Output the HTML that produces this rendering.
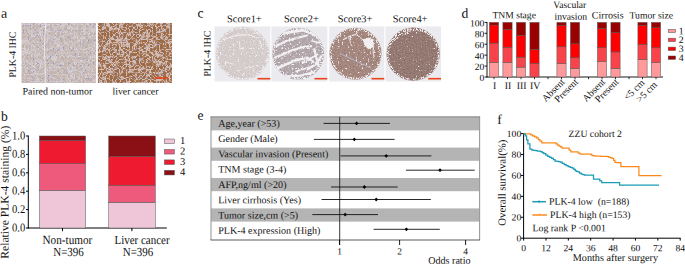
<!DOCTYPE html>
<html><head><meta charset="utf-8"><style>
html,body{margin:0;padding:0;background:#fff;}
svg{display:block;}
text{font-family:"Liberation Serif",serif;fill:#111;}
</style></head><body>
<svg xmlns="http://www.w3.org/2000/svg" width="685" height="265" viewBox="0 0 685 265" font-family="Liberation Serif">
<rect width="685" height="265" fill="#fff"/>
<text x="0.90" y="17.80" font-size="14.0" text-anchor="start"  transform="rotate(0.04 0.90 17.80)">a</text>
<text x="1.10" y="120.80" font-size="13.6" text-anchor="start"  transform="rotate(0.04 1.10 120.80)">b</text>
<text x="197.60" y="17.60" font-size="13.6" text-anchor="start"  transform="rotate(0.04 197.60 17.60)">c</text>
<text x="461.50" y="17.80" font-size="13.6" text-anchor="start"  transform="rotate(0.04 461.50 17.80)">d</text>
<text x="197.50" y="119.70" font-size="13.6" text-anchor="start"  transform="rotate(0.04 197.50 119.70)">e</text>
<text x="497.20" y="124.10" font-size="13.6" text-anchor="start"  transform="rotate(0.04 497.20 124.10)">f</text>
<filter id="fa1" x="-5%" y="-5%" width="110%" height="110%" color-interpolation-filters="sRGB">
<feTurbulence type="turbulence" baseFrequency="0.28" numOctaves="1" seed="14" result="n"/>
<feColorMatrix in="n" type="matrix" values="1 0 0 0 0 1 0 0 0 0 1 0 0 0 0 0 0 0 0 1" result="g"/>
<feComponentTransfer in="g" result="c"><feFuncR type="table" tableValues="0.85 0.81 0.80 0.79 0.78 0.77 0.77 0.77 0.77 0.77 0.77 0.77 0.77 0.77 0.77 0.77"/><feFuncG type="table" tableValues="0.83 0.77 0.74 0.73 0.72 0.71 0.71 0.71 0.71 0.71 0.71 0.71 0.71 0.71 0.71 0.71"/><feFuncB type="table" tableValues="0.85 0.77 0.72 0.71 0.70 0.69 0.69 0.69 0.69 0.69 0.69 0.69 0.69 0.69 0.69 0.69"/></feComponentTransfer>
<feTurbulence type="fractalNoise" baseFrequency="0.6" numOctaves="1" seed="19" result="n2"/>
<feColorMatrix in="n2" type="matrix" values="0 0 0 0 0.56 0 0 0 0 0.59 0 0 0 0 0.78 0 8 0 0 -5.0" result="blue"/>
<feComposite in="blue" in2="c" operator="over"/><feGaussianBlur stdDeviation="0.6"/><feComposite in2="SourceAlpha" operator="in"/></filter>
<filter id="fa2" x="-5%" y="-5%" width="110%" height="110%" color-interpolation-filters="sRGB">
<feTurbulence type="turbulence" baseFrequency="0.3" numOctaves="1" seed="4" result="n"/>
<feColorMatrix in="n" type="matrix" values="1 0 0 0 0 1 0 0 0 0 1 0 0 0 0 0 0 0 0 1" result="g"/>
<feComponentTransfer in="g" result="c"><feFuncR type="table" tableValues="0.82 0.82 0.74 0.67 0.65 0.63 0.61 0.61 0.61 0.61 0.61 0.61 0.61 0.61 0.61 0.61 0.61 0.61 0.61 0.61 0.61 0.61"/><feFuncG type="table" tableValues="0.75 0.75 0.60 0.47 0.45 0.43 0.42 0.42 0.42 0.42 0.42 0.42 0.42 0.42 0.42 0.42 0.42 0.42 0.42 0.42 0.42 0.42"/><feFuncB type="table" tableValues="0.74 0.74 0.52 0.33 0.31 0.29 0.28 0.28 0.28 0.28 0.28 0.28 0.28 0.28 0.28 0.28 0.28 0.28 0.28 0.28 0.28 0.28"/></feComponentTransfer>
<feTurbulence type="fractalNoise" baseFrequency="0.7" numOctaves="1" seed="9" result="n2"/>
<feColorMatrix in="n2" type="matrix" values="0 0 0 0 0.6 0 0 0 0 0.6 0 0 0 0 0.8 0 12 0 0 -8.0" result="blue"/>
<feComposite in="blue" in2="c" operator="over"/><feGaussianBlur stdDeviation="0.6"/><feComposite in2="SourceAlpha" operator="in"/></filter>
<rect x="21.50" y="23.00" width="74.50" height="60.00" fill="#000" filter="url(#fa1)"/>
<path d="M45.9 23 C45.0 33 44.3 43 44.6 53 C44.9 63 45.6 73 45.1 83" stroke="#f2eeee" stroke-width="0.9" fill="none"/>
<path d="M53.5 50.5 L61 42.5" stroke="#e8e2e4" stroke-width="0.7" fill="none" opacity="0.8"/>
<rect x="97.90" y="23.00" width="74.10" height="60.00" fill="#000" filter="url(#fa2)"/>
<rect x="155.00" y="77.20" width="13.00" height="1.60" fill="#e9441d" />
<text x="0.00" y="0.00" font-size="9.8" text-anchor="middle" transform="translate(15.7 54.6) rotate(-90) rotate(0.04)">PLK-4 IHC</text>
<text x="22.60" y="94.50" font-size="9.93" text-anchor="start"  transform="rotate(0.04 22.60 94.50)">Paired non-tumor</text>
<text x="112.50" y="94.50" font-size="9.8" text-anchor="start"  transform="rotate(0.04 112.50 94.50)">liver cancer</text>
<text x="0.00" y="0.00" font-size="11.6" text-anchor="middle" transform="translate(8.6 192.2) rotate(-90) rotate(0.04)">Relative PLK-4 staining (%)</text>
<line x1="28.30" y1="135.50" x2="28.30" y2="228.50" stroke="#000" stroke-width="1" />
<line x1="26.00" y1="228.00" x2="28.30" y2="228.00" stroke="#000" stroke-width="1" />
<text x="0" y="0" font-size="10.6" text-anchor="end" transform="translate(25.20 231.40) scale(1 1.12) rotate(0.04)">0.0</text>
<line x1="26.00" y1="209.60" x2="28.30" y2="209.60" stroke="#000" stroke-width="1" />
<text x="0" y="0" font-size="10.6" text-anchor="end" transform="translate(25.20 213.00) scale(1 1.12) rotate(0.04)">0.2</text>
<line x1="26.00" y1="191.20" x2="28.30" y2="191.20" stroke="#000" stroke-width="1" />
<text x="0" y="0" font-size="10.6" text-anchor="end" transform="translate(25.20 194.60) scale(1 1.12) rotate(0.04)">0.4</text>
<line x1="26.00" y1="172.80" x2="28.30" y2="172.80" stroke="#000" stroke-width="1" />
<text x="0" y="0" font-size="10.6" text-anchor="end" transform="translate(25.20 176.20) scale(1 1.12) rotate(0.04)">0.6</text>
<line x1="26.00" y1="154.40" x2="28.30" y2="154.40" stroke="#000" stroke-width="1" />
<text x="0" y="0" font-size="10.6" text-anchor="end" transform="translate(25.20 157.80) scale(1 1.12) rotate(0.04)">0.8</text>
<line x1="26.00" y1="136.00" x2="28.30" y2="136.00" stroke="#000" stroke-width="1" />
<text x="0" y="0" font-size="10.6" text-anchor="end" transform="translate(25.20 139.40) scale(1 1.12) rotate(0.04)">1.0</text>
<line x1="27.80" y1="228.00" x2="166.80" y2="228.00" stroke="#000" stroke-width="1" />
<rect x="39.40" y="190.28" width="46.20" height="37.72" fill="#efc6d8" stroke="#555" stroke-width="0.5"/>
<rect x="39.40" y="163.60" width="46.20" height="26.68" fill="#ee5a7c" stroke="#555" stroke-width="0.5"/>
<rect x="39.40" y="140.60" width="46.20" height="23.00" fill="#ee1b30" stroke="#555" stroke-width="0.5"/>
<rect x="39.40" y="136.00" width="46.20" height="4.60" fill="#8a1016" stroke="#555" stroke-width="0.5"/>
<rect x="108.70" y="202.24" width="46.60" height="25.76" fill="#efc6d8" stroke="#555" stroke-width="0.5"/>
<rect x="108.70" y="185.22" width="46.60" height="17.02" fill="#ee5a7c" stroke="#555" stroke-width="0.5"/>
<rect x="108.70" y="156.24" width="46.60" height="28.98" fill="#ee1b30" stroke="#555" stroke-width="0.5"/>
<rect x="108.70" y="136.00" width="46.60" height="20.24" fill="#8a1016" stroke="#555" stroke-width="0.5"/>
<line x1="62.50" y1="228.00" x2="62.50" y2="231.20" stroke="#000" stroke-width="1" />
<line x1="131.90" y1="228.00" x2="131.90" y2="231.20" stroke="#000" stroke-width="1" />
<text x="0" y="0" font-size="11.2" text-anchor="middle" transform="translate(67.40 244.00) scale(1 1.12) rotate(0.04)">Non-tumor</text>
<text x="0" y="0" font-size="11" text-anchor="middle" transform="translate(68.50 256.00) scale(1 1.12) rotate(0.04)">N=396</text>
<text x="0" y="0" font-size="11" text-anchor="middle" transform="translate(142.00 244.00) scale(1 1.12) rotate(0.04)">Liver cancer</text>
<text x="0" y="0" font-size="11" text-anchor="middle" transform="translate(138.00 256.00) scale(1 1.12) rotate(0.04)">N=396</text>
<rect x="164.4" y="139.00" width="10" height="4.6" fill="#efc6d8" stroke="#555" stroke-width="0.5"/>
<text x="180.00" y="144.00" font-size="10.6" text-anchor="start"  transform="rotate(0.04 180.00 144.00)">1</text>
<rect x="164.4" y="149.45" width="10" height="4.6" fill="#ee5a7c" stroke="#555" stroke-width="0.5"/>
<text x="180.00" y="154.45" font-size="10.6" text-anchor="start"  transform="rotate(0.04 180.00 154.45)">2</text>
<rect x="164.4" y="159.90" width="10" height="4.6" fill="#ee1b30" stroke="#555" stroke-width="0.5"/>
<text x="180.00" y="164.90" font-size="10.6" text-anchor="start"  transform="rotate(0.04 180.00 164.90)">3</text>
<rect x="164.4" y="170.35" width="10" height="4.6" fill="#8a1016" stroke="#555" stroke-width="0.5"/>
<text x="180.00" y="175.35" font-size="10.6" text-anchor="start"  transform="rotate(0.04 180.00 175.35)">4</text>
<text x="0.00" y="0.00" font-size="9.8" text-anchor="middle" transform="translate(210.6 53.6) rotate(-90) rotate(0.04)">PLK-4 IHC</text>
<rect x="214.50" y="26.40" width="55.80" height="55.10" fill="#ebeaee" />
<filter id="tf0" x="0" y="0" width="100%" height="100%" color-interpolation-filters="sRGB">
<feTurbulence type="fractalNoise" baseFrequency="0.75" numOctaves="2" seed="20" result="n"/>
<feColorMatrix in="n" type="matrix" values="1 0 0 0 0 1 0 0 0 0 1 0 0 0 0 0 0 0 0 1" result="g"/>
<feComponentTransfer in="g" result="c0"><feFuncR type="table" tableValues="0.779 0.779 0.803 0.825 0.845 0.866 0.912 0.940"/><feFuncG type="table" tableValues="0.744 0.744 0.769 0.790 0.810 0.832 0.877 0.940"/><feFuncB type="table" tableValues="0.744 0.744 0.769 0.790 0.810 0.832 0.877 0.940"/></feComponentTransfer>
<feOffset in="c0" dx="0" dy="0" result="c"/>
<feTurbulence type="fractalNoise" baseFrequency="0.4" numOctaves="2" seed="70" result="m"/>
<feColorMatrix in="m" type="matrix" values="0 0 0 0 0 0 0 0 0 0 0 0 0 0 0 12 0 0 0 -3.000" result="mask"/>

<feComposite in="c" in2="mask" operator="in"/><feGaussianBlur stdDeviation="0.35"/></filter>
<filter id="rf0" x="-10%" y="-10%" width="120%" height="120%" color-interpolation-filters="sRGB">
<feTurbulence type="fractalNoise" baseFrequency="0.9" numOctaves="1" seed="100" result="m"/>
<feColorMatrix in="m" type="matrix" values="0 0 0 0 0 0 0 0 0 0 0 0 0 0 0 9 0 0 0 -4.2" result="mask"/>
<feComposite in="SourceGraphic" in2="mask" operator="in"/></filter>
<clipPath id="cc0"><circle cx="242.50" cy="53.40" r="26.70"/></clipPath>
<g clip-path="url(#cc0)"><rect x="215.8" y="26.7" width="53.4" height="53.4" fill="#f1eff1"/>
<g transform="rotate(0 242.50 53.40)"><rect x="202.4" y="13.4" width="80.1" height="80.1" fill="#000" filter="url(#tf0)"/></g>
<filter id="rough1" x="-10%" y="-10%" width="120%" height="120%"><feTurbulence type="fractalNoise" baseFrequency="0.7" numOctaves="2" seed="5" result="t"/><feDisplacementMap in="SourceGraphic" in2="t" scale="2.4" xChannelSelector="R" yChannelSelector="G"/></filter><g fill="none" stroke="#f1eff1" stroke-linecap="round" stroke-linejoin="round" filter="url(#rough1)" opacity="0.9"><path d="M223.5 39.7 L235.1 35.5 L247.8 34.4 L257.3 38.2" stroke-width="1.3"/><path d="M239.3 41.8 L240.2 49.6" stroke-width="1.0"/><path d="M225.6 61.9 L234.1 64.4" stroke-width="1.0"/><path d="M221.4 69.3 L226.7 74.1" stroke-width="1.6"/><path d="M245.7 68.2 L254.1 66.1" stroke-width="1.0"/><path d="M259.4 40.8 L263.0 49.2" stroke-width="1.2"/></g>
<circle cx="242.50" cy="53.40" r="25.60" fill="none" stroke="#f1eff1" stroke-width="2.2" filter="url(#rf0)"/>
</g>
<rect x="257.50" y="77.90" width="12.80" height="1.60" fill="#e9441d" />
<text x="244.35" y="22.20" font-size="10.4" text-anchor="middle"  transform="rotate(0.04 244.35 22.20)">Score1+</text>
<rect x="271.40" y="26.40" width="55.90" height="55.10" fill="#ebeaee" />
<filter id="tf1" x="0" y="0" width="100%" height="100%" color-interpolation-filters="sRGB">
<feTurbulence type="fractalNoise" baseFrequency="0.75" numOctaves="2" seed="21" result="n"/>
<feColorMatrix in="n" type="matrix" values="1 0 0 0 0 1 0 0 0 0 1 0 0 0 0 0 0 0 0 1" result="g"/>
<feComponentTransfer in="g" result="c0"><feFuncR type="table" tableValues="0.620 0.620 0.655 0.685 0.715 0.745 0.810 0.940"/><feFuncG type="table" tableValues="0.575 0.575 0.610 0.640 0.670 0.700 0.765 0.940"/><feFuncB type="table" tableValues="0.590 0.590 0.625 0.655 0.685 0.715 0.780 0.940"/></feComponentTransfer>
<feOffset in="c0" dx="0" dy="0" result="c"/>
<feTurbulence type="fractalNoise" baseFrequency="0.5" numOctaves="2" seed="71" result="m"/>
<feColorMatrix in="m" type="matrix" values="0 0 0 0 0 0 0 0 0 0 0 0 0 0 0 12 0 0 0 -3.240" result="mask"/>

<feComposite in="c" in2="mask" operator="in"/><feGaussianBlur stdDeviation="0.35"/></filter>
<filter id="rf1" x="-10%" y="-10%" width="120%" height="120%" color-interpolation-filters="sRGB">
<feTurbulence type="fractalNoise" baseFrequency="0.9" numOctaves="1" seed="101" result="m"/>
<feColorMatrix in="m" type="matrix" values="0 0 0 0 0 0 0 0 0 0 0 0 0 0 0 9 0 0 0 -4.2" result="mask"/>
<feComposite in="SourceGraphic" in2="mask" operator="in"/></filter>
<clipPath id="cc1"><circle cx="298.20" cy="53.70" r="25.90"/></clipPath>
<g clip-path="url(#cc1)"><rect x="272.3" y="27.8" width="51.8" height="51.8" fill="#f1eff1"/>
<g transform="rotate(0 298.20 53.70)"><rect x="259.4" y="14.9" width="77.7" height="77.7" fill="#000" filter="url(#tf1)"/></g>
<filter id="rough2" x="-10%" y="-10%" width="120%" height="120%"><feTurbulence type="fractalNoise" baseFrequency="0.7" numOctaves="2" seed="3" result="t"/><feDisplacementMap in="SourceGraphic" in2="t" scale="2.6" xChannelSelector="R" yChannelSelector="G"/></filter><g fill="none" stroke="#f1eff1" stroke-linecap="round" stroke-linejoin="round" filter="url(#rough2)"><path d="M276.3 46.1 L286.8 40.8 L298.4 37.6 L306.9 35.5" stroke-width="2.2"/><path d="M275.2 57.7 L292.1 50.3 L302.7 47.1 L311.1 46.1" stroke-width="2.4"/><path d="M277.3 68.2 L294.2 60.8 L306.9 57.7 L313.2 61.9" stroke-width="2.6"/><path d="M302.7 62.9 L317.4 54.5" stroke-width="2.0"/><path d="M296.3 71.4 L313.2 66.1" stroke-width="2.0"/><path d="M283.7 33.4 L302.7 30.2 L317.4 35.5" stroke-width="2.6"/><path d="M307.9 69.3 L316.4 64.0 L321.7 55.6" stroke-width="2.4"/><path d="M314.3 49.2 L316.4 57.7 L318.5 66.1" stroke-width="2.2"/><path d="M283.7 76.7 L300.6 75.6 L313.2 72.4" stroke-width="2.4"/><path d="M311.1 40.8 L319.6 42.9" stroke-width="1.6"/></g>
<circle cx="298.20" cy="53.70" r="24.80" fill="none" stroke="#f1eff1" stroke-width="2.2" filter="url(#rf1)"/>
</g>
<rect x="314.50" y="77.90" width="12.80" height="1.60" fill="#e9441d" />
<text x="301.40" y="22.20" font-size="10.4" text-anchor="middle"  transform="rotate(0.04 301.40 22.20)">Score2+</text>
<rect x="329.20" y="26.40" width="55.10" height="55.10" fill="#ebeaee" />
<filter id="tf2" x="0" y="0" width="100%" height="100%" color-interpolation-filters="sRGB">
<feTurbulence type="fractalNoise" baseFrequency="0.75" numOctaves="2" seed="22" result="n"/>
<feColorMatrix in="n" type="matrix" values="1 0 0 0 0 1 0 0 0 0 1 0 0 0 0 0 0 0 0 1" result="g"/>
<feComponentTransfer in="g" result="c0"><feFuncR type="table" tableValues="0.565 0.565 0.600 0.630 0.660 0.690 0.755 0.940"/><feFuncG type="table" tableValues="0.450 0.450 0.485 0.515 0.545 0.575 0.640 0.940"/><feFuncB type="table" tableValues="0.415 0.415 0.450 0.480 0.510 0.540 0.605 0.940"/></feComponentTransfer>
<feOffset in="c0" dx="0" dy="0" result="c"/>
<feTurbulence type="fractalNoise" baseFrequency="0.5" numOctaves="2" seed="72" result="m"/>
<feColorMatrix in="m" type="matrix" values="0 0 0 0 0 0 0 0 0 0 0 0 0 0 0 14 0 0 0 -3.500" result="mask"/>

<feComposite in="c" in2="mask" operator="in"/><feGaussianBlur stdDeviation="0.35"/></filter>
<filter id="rf2" x="-10%" y="-10%" width="120%" height="120%" color-interpolation-filters="sRGB">
<feTurbulence type="fractalNoise" baseFrequency="0.9" numOctaves="1" seed="102" result="m"/>
<feColorMatrix in="m" type="matrix" values="0 0 0 0 0 0 0 0 0 0 0 0 0 0 0 9 0 0 0 -4.2" result="mask"/>
<feComposite in="SourceGraphic" in2="mask" operator="in"/></filter>
<clipPath id="cc2"><circle cx="355.50" cy="53.80" r="26.00"/></clipPath>
<g clip-path="url(#cc2)"><rect x="329.5" y="27.8" width="52.0" height="52.0" fill="#f1eff1"/>
<g transform="rotate(0 355.50 53.80)"><rect x="316.5" y="14.8" width="78.0" height="78.0" fill="#000" filter="url(#tf2)"/></g>
<filter id="rough3" x="-10%" y="-10%" width="120%" height="120%"><feTurbulence type="fractalNoise" baseFrequency="0.7" numOctaves="2" seed="8" result="t"/><feDisplacementMap in="SourceGraphic" in2="t" scale="2.4" xChannelSelector="R" yChannelSelector="G"/></filter><g filter="url(#rough3)"><g fill="none" stroke="#f1eff1" stroke-linecap="round" stroke-linejoin="round"><path d="M343.4 39.6 L347.9 37.3 L351.3 35.6 L355.8 34.5 L358.1 30.5 L359.8 29.2" stroke-width="1.1"/><path d="M350.5 36.5 L349.8 40 L350.6 44 L352 46" stroke-width="0.9"/><path d="M357 35 L362.6 39.6" stroke-width="1.0"/><path d="M372.5 40 L373.8 46 L373 52 L374.5 58" stroke-width="0.9"/></g><path d="M362.6 39.6 L368.3 37.6 L373.9 39.6 L372.8 47.5 L368.3 49.2 L364.9 45.8 Z" fill="#f1eff1"/></g><path d="M339.6 53.4 L371.3 68.2" stroke="#b9b3c8" stroke-width="1" fill="none"/>
<circle cx="355.50" cy="53.80" r="24.90" fill="none" stroke="#f1eff1" stroke-width="2.2" filter="url(#rf2)"/>
</g>
<rect x="371.50" y="77.90" width="12.80" height="1.60" fill="#e9441d" />
<text x="355.00" y="22.20" font-size="10.4" text-anchor="middle"  transform="rotate(0.04 355.00 22.20)">Score3+</text>
<rect x="385.50" y="26.40" width="55.50" height="55.10" fill="#ebeaee" />
<filter id="tf3" x="0" y="0" width="100%" height="100%" color-interpolation-filters="sRGB">
<feTurbulence type="fractalNoise" baseFrequency="0.75" numOctaves="2" seed="23" result="n"/>
<feColorMatrix in="n" type="matrix" values="1 0 0 0 0 1 0 0 0 0 1 0 0 0 0 0 0 0 0 1" result="g"/>
<feComponentTransfer in="g" result="c0"><feFuncR type="table" tableValues="0.505 0.505 0.540 0.570 0.600 0.630 0.695 0.940"/><feFuncG type="table" tableValues="0.400 0.400 0.435 0.465 0.495 0.525 0.590 0.940"/><feFuncB type="table" tableValues="0.375 0.375 0.410 0.440 0.470 0.500 0.565 0.940"/></feComponentTransfer>
<feOffset in="c0" dx="0" dy="0" result="c"/>
<feTurbulence type="fractalNoise" baseFrequency="0.5" numOctaves="2" seed="73" result="m"/>
<feColorMatrix in="m" type="matrix" values="0 0 0 0 0 0 0 0 0 0 0 0 0 0 0 14 0 0 0 -3.080" result="mask"/>

<feComposite in="c" in2="mask" operator="in"/><feGaussianBlur stdDeviation="0.35"/></filter>
<filter id="rf3" x="-10%" y="-10%" width="120%" height="120%" color-interpolation-filters="sRGB">
<feTurbulence type="fractalNoise" baseFrequency="0.9" numOctaves="1" seed="103" result="m"/>
<feColorMatrix in="m" type="matrix" values="0 0 0 0 0 0 0 0 0 0 0 0 0 0 0 9 0 0 0 -4.2" result="mask"/>
<feComposite in="SourceGraphic" in2="mask" operator="in"/></filter>
<clipPath id="cc3"><circle cx="413.20" cy="54.20" r="26.60"/></clipPath>
<g clip-path="url(#cc3)"><rect x="386.6" y="27.6" width="53.2" height="53.2" fill="#f1eff1"/>
<g transform="rotate(0 413.20 54.20)"><rect x="373.3" y="14.3" width="79.8" height="79.8" fill="#000" filter="url(#tf3)"/></g>
<g fill="none" stroke="#f1eff1" stroke-linecap="round" filter="url(#rf3)"><path d="M390.3 42.9 L394.5 35.5 L404 30.6 L416.7 29.2 L427.2 31.3 L434.6 36.6" stroke-width="3"/><path d="M393 41 L400 35 L408 33" stroke-width="2"/></g>
<circle cx="413.20" cy="54.20" r="25.50" fill="none" stroke="#f1eff1" stroke-width="2.2" filter="url(#rf3)"/>
</g>
<rect x="428.20" y="77.90" width="12.80" height="1.60" fill="#e9441d" />
<text x="410.10" y="22.20" font-size="10.4" text-anchor="middle"  transform="rotate(0.04 410.10 22.20)">Score4+</text>
<line x1="487.00" y1="22.00" x2="487.00" y2="77.50" stroke="#000" stroke-width="0.9" />
<line x1="484.60" y1="77.00" x2="487.00" y2="77.00" stroke="#000" stroke-width="0.9" />
<text x="484.30" y="81.00" font-size="9.6" text-anchor="end"  transform="rotate(0.04 484.30 81.00)">0</text>
<line x1="484.60" y1="66.08" x2="487.00" y2="66.08" stroke="#000" stroke-width="0.9" />
<text x="484.30" y="70.08" font-size="9.6" text-anchor="end"  transform="rotate(0.04 484.30 70.08)">20</text>
<line x1="484.60" y1="55.16" x2="487.00" y2="55.16" stroke="#000" stroke-width="0.9" />
<text x="484.30" y="59.16" font-size="9.6" text-anchor="end"  transform="rotate(0.04 484.30 59.16)">40</text>
<line x1="484.60" y1="44.24" x2="487.00" y2="44.24" stroke="#000" stroke-width="0.9" />
<text x="484.30" y="48.24" font-size="9.6" text-anchor="end"  transform="rotate(0.04 484.30 48.24)">60</text>
<line x1="484.60" y1="33.32" x2="487.00" y2="33.32" stroke="#000" stroke-width="0.9" />
<text x="484.30" y="37.32" font-size="9.6" text-anchor="end"  transform="rotate(0.04 484.30 37.32)">80</text>
<line x1="484.60" y1="22.40" x2="487.00" y2="22.40" stroke="#000" stroke-width="0.9" />
<text x="484.30" y="26.40" font-size="9.6" text-anchor="end"  transform="rotate(0.04 484.30 26.40)">100</text>
<line x1="486.60" y1="77.00" x2="663.00" y2="77.00" stroke="#000" stroke-width="0.9" />
<line x1="494.00" y1="77.00" x2="494.00" y2="79.20" stroke="#000" stroke-width="0.8" />
<line x1="507.50" y1="77.00" x2="507.50" y2="79.20" stroke="#000" stroke-width="0.8" />
<line x1="521.00" y1="77.00" x2="521.00" y2="79.20" stroke="#000" stroke-width="0.8" />
<line x1="534.50" y1="77.00" x2="534.50" y2="79.20" stroke="#000" stroke-width="0.8" />
<line x1="548.00" y1="77.00" x2="548.00" y2="79.20" stroke="#000" stroke-width="0.8" />
<line x1="561.50" y1="77.00" x2="561.50" y2="79.20" stroke="#000" stroke-width="0.8" />
<line x1="575.00" y1="77.00" x2="575.00" y2="79.20" stroke="#000" stroke-width="0.8" />
<line x1="588.50" y1="77.00" x2="588.50" y2="79.20" stroke="#000" stroke-width="0.8" />
<line x1="602.00" y1="77.00" x2="602.00" y2="79.20" stroke="#000" stroke-width="0.8" />
<line x1="615.50" y1="77.00" x2="615.50" y2="79.20" stroke="#000" stroke-width="0.8" />
<line x1="629.00" y1="77.00" x2="629.00" y2="79.20" stroke="#000" stroke-width="0.8" />
<line x1="642.50" y1="77.00" x2="642.50" y2="79.20" stroke="#000" stroke-width="0.8" />
<line x1="656.00" y1="77.00" x2="656.00" y2="79.20" stroke="#000" stroke-width="0.8" />
<rect x="489.40" y="62.31" width="9.20" height="14.69" fill="#ff9a9c" stroke="#555" stroke-width="0.5"/>
<rect x="489.40" y="43.04" width="9.20" height="19.27" fill="#f8434a" stroke="#555" stroke-width="0.5"/>
<rect x="489.40" y="25.02" width="9.20" height="18.02" fill="#ff0000" stroke="#555" stroke-width="0.5"/>
<rect x="489.40" y="22.40" width="9.20" height="2.62" fill="#990000" stroke="#555" stroke-width="0.5"/>
<rect x="502.90" y="62.31" width="9.20" height="14.69" fill="#ff9a9c" stroke="#555" stroke-width="0.5"/>
<rect x="502.90" y="47.35" width="9.20" height="14.96" fill="#f8434a" stroke="#555" stroke-width="0.5"/>
<rect x="502.90" y="29.50" width="9.20" height="17.85" fill="#ff0000" stroke="#555" stroke-width="0.5"/>
<rect x="502.90" y="22.40" width="9.20" height="7.10" fill="#990000" stroke="#555" stroke-width="0.5"/>
<rect x="516.40" y="67.12" width="9.20" height="9.88" fill="#ff9a9c" stroke="#555" stroke-width="0.5"/>
<rect x="516.40" y="57.13" width="9.20" height="9.99" fill="#f8434a" stroke="#555" stroke-width="0.5"/>
<rect x="516.40" y="35.50" width="9.20" height="21.62" fill="#ff0000" stroke="#555" stroke-width="0.5"/>
<rect x="516.40" y="22.40" width="9.20" height="13.10" fill="#990000" stroke="#555" stroke-width="0.5"/>
<rect x="529.90" y="63.40" width="9.20" height="13.60" fill="#f8434a" stroke="#555" stroke-width="0.5"/>
<rect x="529.90" y="49.54" width="9.20" height="13.87" fill="#ff0000" stroke="#555" stroke-width="0.5"/>
<rect x="529.90" y="22.40" width="9.20" height="27.14" fill="#990000" stroke="#555" stroke-width="0.5"/>
<rect x="556.90" y="63.62" width="9.20" height="13.38" fill="#ff9a9c" stroke="#555" stroke-width="0.5"/>
<rect x="556.90" y="46.81" width="9.20" height="16.82" fill="#f8434a" stroke="#555" stroke-width="0.5"/>
<rect x="556.90" y="25.68" width="9.20" height="21.13" fill="#ff0000" stroke="#555" stroke-width="0.5"/>
<rect x="556.90" y="22.40" width="9.20" height="3.28" fill="#990000" stroke="#555" stroke-width="0.5"/>
<rect x="570.40" y="68.37" width="9.20" height="8.63" fill="#ff9a9c" stroke="#555" stroke-width="0.5"/>
<rect x="570.40" y="57.78" width="9.20" height="10.59" fill="#f8434a" stroke="#555" stroke-width="0.5"/>
<rect x="570.40" y="43.80" width="9.20" height="13.98" fill="#ff0000" stroke="#555" stroke-width="0.5"/>
<rect x="570.40" y="22.40" width="9.20" height="21.40" fill="#990000" stroke="#555" stroke-width="0.5"/>
<rect x="597.40" y="61.49" width="9.20" height="15.51" fill="#ff9a9c" stroke="#555" stroke-width="0.5"/>
<rect x="597.40" y="47.68" width="9.20" height="13.81" fill="#f8434a" stroke="#555" stroke-width="0.5"/>
<rect x="597.40" y="28.52" width="9.20" height="19.16" fill="#ff0000" stroke="#555" stroke-width="0.5"/>
<rect x="597.40" y="22.40" width="9.20" height="6.12" fill="#990000" stroke="#555" stroke-width="0.5"/>
<rect x="610.90" y="68.48" width="9.20" height="8.52" fill="#ff9a9c" stroke="#555" stroke-width="0.5"/>
<rect x="610.90" y="51.94" width="9.20" height="16.54" fill="#f8434a" stroke="#555" stroke-width="0.5"/>
<rect x="610.90" y="32.72" width="9.20" height="19.22" fill="#ff0000" stroke="#555" stroke-width="0.5"/>
<rect x="610.90" y="22.40" width="9.20" height="10.32" fill="#990000" stroke="#555" stroke-width="0.5"/>
<rect x="637.90" y="59.58" width="9.20" height="17.42" fill="#ff9a9c" stroke="#555" stroke-width="0.5"/>
<rect x="637.90" y="44.29" width="9.20" height="15.29" fill="#f8434a" stroke="#555" stroke-width="0.5"/>
<rect x="637.90" y="25.40" width="9.20" height="18.89" fill="#ff0000" stroke="#555" stroke-width="0.5"/>
<rect x="637.90" y="22.40" width="9.20" height="3.00" fill="#990000" stroke="#555" stroke-width="0.5"/>
<rect x="651.40" y="62.42" width="9.20" height="14.58" fill="#ff9a9c" stroke="#555" stroke-width="0.5"/>
<rect x="651.40" y="47.79" width="9.20" height="14.63" fill="#f8434a" stroke="#555" stroke-width="0.5"/>
<rect x="651.40" y="27.70" width="9.20" height="20.09" fill="#ff0000" stroke="#555" stroke-width="0.5"/>
<rect x="651.40" y="22.40" width="9.20" height="5.30" fill="#990000" stroke="#555" stroke-width="0.5"/>
<text x="494.60" y="89.00" font-size="9.8" text-anchor="middle"  transform="rotate(0.04 494.60 89.00)">I</text>
<text x="508.10" y="89.00" font-size="9.8" text-anchor="middle"  transform="rotate(0.04 508.10 89.00)">II</text>
<text x="521.60" y="89.00" font-size="9.8" text-anchor="middle"  transform="rotate(0.04 521.60 89.00)">III</text>
<text x="535.10" y="89.00" font-size="9.8" text-anchor="middle"  transform="rotate(0.04 535.10 89.00)">IV</text>
<text x="0.00" y="0.00" font-size="9.8" text-anchor="end" transform="translate(565.30 82.60) rotate(-45) rotate(0.04)">Absent</text>
<text x="0.00" y="0.00" font-size="9.8" text-anchor="end" transform="translate(578.70 82.60) rotate(-45) rotate(0.04)">Present</text>
<text x="0.00" y="0.00" font-size="9.8" text-anchor="end" transform="translate(605.80 82.60) rotate(-45) rotate(0.04)">Absent</text>
<text x="0.00" y="0.00" font-size="9.8" text-anchor="end" transform="translate(619.20 82.60) rotate(-45) rotate(0.04)">Present</text>
<text x="0.00" y="0.00" font-size="9.8" text-anchor="end" transform="translate(645.20 83.30) rotate(-45) rotate(0.04)">&lt;5 cm</text>
<text x="0.00" y="0.00" font-size="9.8" text-anchor="end" transform="translate(657.60 85.30) rotate(-45) rotate(0.04)">&gt;5 cm</text>
<text x="514.20" y="18.20" font-size="9.6" text-anchor="middle"  transform="rotate(0.04 514.20 18.20)">TNM stage</text>
<text x="569.80" y="8.00" font-size="9.6" text-anchor="middle"  transform="rotate(0.04 569.80 8.00)">Vascular</text>
<text x="570.80" y="19.70" font-size="9.6" text-anchor="middle"  transform="rotate(0.04 570.80 19.70)">invasion</text>
<text x="607.70" y="18.40" font-size="10.0" text-anchor="middle"  transform="rotate(0.04 607.70 18.40)">Cirrosis</text>
<text x="651.30" y="18.40" font-size="9.7" text-anchor="middle"  transform="rotate(0.04 651.30 18.40)">Tumor size</text>
<rect x="668.2" y="29.30" width="7.4" height="3.4" fill="#ff9a9c" stroke="#555" stroke-width="0.5"/>
<text x="678.80" y="34.20" font-size="9.8" text-anchor="start"  transform="rotate(0.04 678.80 34.20)">1</text>
<rect x="668.2" y="38.20" width="7.4" height="3.4" fill="#f8434a" stroke="#555" stroke-width="0.5"/>
<text x="678.80" y="43.10" font-size="9.8" text-anchor="start"  transform="rotate(0.04 678.80 43.10)">2</text>
<rect x="668.2" y="47.10" width="7.4" height="3.4" fill="#ff0000" stroke="#555" stroke-width="0.5"/>
<text x="678.80" y="52.00" font-size="9.8" text-anchor="start"  transform="rotate(0.04 678.80 52.00)">3</text>
<rect x="668.2" y="56.00" width="7.4" height="3.4" fill="#990000" stroke="#555" stroke-width="0.5"/>
<text x="678.80" y="60.90" font-size="9.8" text-anchor="start"  transform="rotate(0.04 678.80 60.90)">4</text>
<rect x="211.00" y="116.90" width="268.60" height="123.10" fill="#fff" />
<rect x="211.00" y="117.20" width="268.60" height="13.20" fill="#b4b4b4" />
<rect x="211.00" y="147.60" width="268.60" height="13.20" fill="#b4b4b4" />
<rect x="211.00" y="178.00" width="268.60" height="13.20" fill="#b4b4b4" />
<rect x="211.00" y="208.40" width="268.60" height="13.20" fill="#b4b4b4" />
<line x1="211.00" y1="116.90" x2="211.00" y2="240.00" stroke="#9a9a9a" stroke-width="1.1" />
<line x1="479.60" y1="116.90" x2="479.60" y2="240.00" stroke="#9a9a9a" stroke-width="1.1" />
<line x1="210.50" y1="116.90" x2="480.10" y2="116.90" stroke="#6a6a6a" stroke-width="0.9" />
<line x1="210.50" y1="240.00" x2="480.10" y2="240.00" stroke="#5a5a5a" stroke-width="1.0" />
<line x1="339.70" y1="116.90" x2="339.70" y2="245.00" stroke="#222" stroke-width="0.9" />
<text x="218.20" y="126.70" font-size="10.07" text-anchor="start"  transform="rotate(0.04 218.20 126.70)">Age,year (&gt;53)</text>
<text x="218.20" y="142.00" font-size="10.07" text-anchor="start"  transform="rotate(0.04 218.20 142.00)">Gender (Male)</text>
<text x="218.20" y="157.30" font-size="10.07" text-anchor="start"  transform="rotate(0.04 218.20 157.30)">Vascular invasion (Present)</text>
<text x="218.20" y="172.60" font-size="10.07" text-anchor="start"  transform="rotate(0.04 218.20 172.60)">TNM stage (3-4)</text>
<text x="218.20" y="187.90" font-size="10.07" text-anchor="start"  transform="rotate(0.04 218.20 187.90)">AFP,ng/ml (&gt;20)</text>
<text x="218.20" y="203.20" font-size="10.07" text-anchor="start"  transform="rotate(0.04 218.20 203.20)">Liver cirrhosis (Yes)</text>
<text x="218.20" y="218.50" font-size="10.07" text-anchor="start"  transform="rotate(0.04 218.20 218.50)">Tumor size,cm (&gt;5)</text>
<text x="218.20" y="233.80" font-size="10.07" text-anchor="start"  transform="rotate(0.04 218.20 233.80)">PLK-4 expression (High)</text>
<line x1="323.60" y1="123.40" x2="389.90" y2="123.40" stroke="#111" stroke-width="0.9" />
<path d="M354.80 123.40 L356.60 121.50 L358.40 123.40 L356.60 125.30 Z" fill="#000"/>
<line x1="313.90" y1="139.40" x2="394.60" y2="139.40" stroke="#111" stroke-width="0.9" />
<path d="M352.50 139.40 L354.30 137.50 L356.10 139.40 L354.30 141.30 Z" fill="#000"/>
<line x1="340.70" y1="155.90" x2="431.40" y2="155.90" stroke="#111" stroke-width="0.9" />
<path d="M384.40 155.90 L386.20 154.00 L388.00 155.90 L386.20 157.80 Z" fill="#000"/>
<line x1="405.90" y1="170.20" x2="474.70" y2="170.20" stroke="#111" stroke-width="0.9" />
<path d="M438.20 170.20 L440.00 168.30 L441.80 170.20 L440.00 172.10 Z" fill="#000"/>
<line x1="331.00" y1="187.00" x2="397.70" y2="187.00" stroke="#111" stroke-width="0.9" />
<path d="M362.60 187.00 L364.40 185.10 L366.20 187.00 L364.40 188.90 Z" fill="#000"/>
<line x1="321.50" y1="199.50" x2="430.80" y2="199.50" stroke="#111" stroke-width="0.9" />
<path d="M374.40 199.50 L376.20 197.60 L378.00 199.50 L376.20 201.40 Z" fill="#000"/>
<line x1="312.30" y1="214.60" x2="378.00" y2="214.60" stroke="#111" stroke-width="0.9" />
<path d="M343.40 214.60 L345.20 212.70 L347.00 214.60 L345.20 216.50 Z" fill="#000"/>
<line x1="373.60" y1="229.30" x2="439.80" y2="229.30" stroke="#111" stroke-width="0.9" />
<path d="M404.60 229.30 L406.40 227.40 L408.20 229.30 L406.40 231.20 Z" fill="#000"/>
<line x1="339.50" y1="240.00" x2="339.50" y2="245.00" stroke="#000" stroke-width="0.9" />
<text x="339.50" y="254.60" font-size="9.4" text-anchor="middle"  transform="rotate(0.04 339.50 254.60)">1</text>
<line x1="399.60" y1="240.00" x2="399.60" y2="245.00" stroke="#000" stroke-width="0.9" />
<text x="399.60" y="254.60" font-size="9.4" text-anchor="middle"  transform="rotate(0.04 399.60 254.60)">2</text>
<line x1="465.60" y1="240.00" x2="465.60" y2="245.00" stroke="#000" stroke-width="0.9" />
<text x="465.60" y="254.60" font-size="9.4" text-anchor="middle"  transform="rotate(0.04 465.60 254.60)">4</text>
<text x="428.20" y="263.80" font-size="10.1" text-anchor="start"  transform="rotate(0.04 428.20 263.80)">Odds ratio</text>
<line x1="523.60" y1="133.20" x2="523.60" y2="238.70" stroke="#000" stroke-width="1" />
<line x1="523.10" y1="238.20" x2="680.60" y2="238.20" stroke="#000" stroke-width="1" />
<line x1="521.00" y1="238.20" x2="523.60" y2="238.20" stroke="#000" stroke-width="1" />
<text x="521.20" y="241.50" font-size="9.6" text-anchor="end"  transform="rotate(0.04 521.20 241.50)">0</text>
<line x1="521.00" y1="217.28" x2="523.60" y2="217.28" stroke="#000" stroke-width="1" />
<text x="521.20" y="220.58" font-size="9.6" text-anchor="end"  transform="rotate(0.04 521.20 220.58)">20</text>
<line x1="521.00" y1="196.36" x2="523.60" y2="196.36" stroke="#000" stroke-width="1" />
<text x="521.20" y="199.66" font-size="9.6" text-anchor="end"  transform="rotate(0.04 521.20 199.66)">40</text>
<line x1="521.00" y1="175.44" x2="523.60" y2="175.44" stroke="#000" stroke-width="1" />
<text x="521.20" y="178.74" font-size="9.6" text-anchor="end"  transform="rotate(0.04 521.20 178.74)">60</text>
<line x1="521.00" y1="154.52" x2="523.60" y2="154.52" stroke="#000" stroke-width="1" />
<text x="521.20" y="157.82" font-size="9.6" text-anchor="end"  transform="rotate(0.04 521.20 157.82)">80</text>
<line x1="521.00" y1="133.60" x2="523.60" y2="133.60" stroke="#000" stroke-width="1" />
<text x="521.20" y="136.90" font-size="9.6" text-anchor="end"  transform="rotate(0.04 521.20 136.90)">100</text>
<line x1="523.60" y1="238.20" x2="523.60" y2="240.60" stroke="#000" stroke-width="1" />
<text x="523.60" y="251.20" font-size="9.6" text-anchor="middle"  transform="rotate(0.04 523.60 251.20)">0</text>
<line x1="545.97" y1="238.20" x2="545.97" y2="240.60" stroke="#000" stroke-width="1" />
<text x="545.97" y="251.20" font-size="9.6" text-anchor="middle"  transform="rotate(0.04 545.97 251.20)">12</text>
<line x1="568.34" y1="238.20" x2="568.34" y2="240.60" stroke="#000" stroke-width="1" />
<text x="568.34" y="251.20" font-size="9.6" text-anchor="middle"  transform="rotate(0.04 568.34 251.20)">24</text>
<line x1="590.71" y1="238.20" x2="590.71" y2="240.60" stroke="#000" stroke-width="1" />
<text x="590.71" y="251.20" font-size="9.6" text-anchor="middle"  transform="rotate(0.04 590.71 251.20)">36</text>
<line x1="613.08" y1="238.20" x2="613.08" y2="240.60" stroke="#000" stroke-width="1" />
<text x="613.08" y="251.20" font-size="9.6" text-anchor="middle"  transform="rotate(0.04 613.08 251.20)">48</text>
<line x1="635.45" y1="238.20" x2="635.45" y2="240.60" stroke="#000" stroke-width="1" />
<text x="635.45" y="251.20" font-size="9.6" text-anchor="middle"  transform="rotate(0.04 635.45 251.20)">60</text>
<line x1="657.82" y1="238.20" x2="657.82" y2="240.60" stroke="#000" stroke-width="1" />
<text x="657.82" y="251.20" font-size="9.6" text-anchor="middle"  transform="rotate(0.04 657.82 251.20)">72</text>
<line x1="680.19" y1="238.20" x2="680.19" y2="240.60" stroke="#000" stroke-width="1" />
<text x="680.19" y="251.20" font-size="9.6" text-anchor="middle"  transform="rotate(0.04 680.19 251.20)">84</text>
<text x="572.80" y="261.00" font-size="10.2" text-anchor="start"  transform="rotate(0.04 572.80 261.00)">Months after surgery</text>
<text x="0.00" y="0.00" font-size="10.8" text-anchor="middle" transform="translate(505.6 182.7) rotate(-90) rotate(0.04)">Overall survival(%)</text>
<text x="568.60" y="137.00" font-size="9.7" text-anchor="start"  transform="rotate(0.04 568.60 137.00)">ZZU cohort 2</text>
<polyline points="523.5,133.8 529.2,133.8 530.9,133.8 530.9,134.9 532.5,134.9 532.5,135.9 534.5,135.9 534.5,136.9 536.5,136.9 536.5,137.9 538.3,137.9 538.3,139.5 540.0,139.5 540.0,141.2 541.8,141.2 541.8,142.8 554.3,142.8 555.9,142.8 555.9,143.9 557.5,143.9 557.5,145.0 559.1,145.0 559.1,146.0 560.7,146.0 560.7,147.1 562.3,147.1 562.3,148.2 567.5,148.2 569.1,148.2 569.1,150.1 570.8,150.1 570.8,151.9 576.1,151.9 578.1,151.9 578.1,153.0 580.1,153.0 580.1,154.1 589.3,154.1 591.3,154.1 591.3,155.2 592.8,155.2 592.8,155.5 594.3,155.5 594.3,155.8 595.8,155.8 595.8,156.1 597.4,156.1 597.4,156.2 599.0,156.2 599.0,156.2 600.6,156.2 600.6,156.3 602.2,156.3 602.2,156.3 603.8,156.3 603.8,156.4 605.4,156.4 605.4,156.4 607.0,156.4 607.0,156.5 609.0,156.5 609.0,157.4 610.6,157.4 610.6,157.9 612.3,157.9 612.3,158.3 613.6,158.3 613.6,160.3 614.9,160.3 614.9,162.3 616.9,162.3 616.9,162.5 618.9,162.5 618.9,162.7 620.9,162.7 620.9,166.5 638.9,166.5 638.9,175.5 661.6,175.5" fill="none" stroke="#fb8a1e" stroke-width="1.25" stroke-linejoin="miter"/>
<polyline points="523.5,133.8 525.3,133.8 525.3,135.9 526.6,135.9 526.6,139.9 527.9,139.9 527.9,143.8 529.9,143.8 529.9,149.1 531.9,149.1 531.9,150.2 533.8,150.2 533.8,150.4 535.8,150.4 535.8,150.7 537.4,150.7 537.4,151.0 538.9,151.0 538.9,151.2 540.5,151.2 540.5,151.5 542.1,151.5 542.1,152.6 543.8,152.6 543.8,153.7 545.8,153.7 545.8,155.1 547.7,155.1 547.7,156.4 549.7,156.4 549.7,157.4 551.7,157.4 551.7,158.4 553.4,158.4 553.4,159.7 555.0,159.7 555.0,161.0 556.8,161.0 556.8,161.4 558.5,161.4 558.5,161.7 560.3,161.7 560.3,162.1 562.2,162.1 562.2,163.4 564.2,163.4 564.2,164.7 566.2,164.7 566.2,165.7 568.2,165.7 568.2,166.7 570.2,166.7 570.2,167.3 572.2,167.3 572.2,168.0 573.8,168.0 573.8,169.4 575.3,169.4 575.3,170.9 576.6,170.9 576.6,171.4 577.9,171.4 577.9,171.9 579.5,171.9 579.5,173.1 581.2,173.1 581.2,174.2 582.9,174.2 582.9,174.7 584.5,174.7 584.5,175.2 591.1,175.2 593.5,175.2 593.5,179.1 597.8,179.1 599.8,179.1 599.8,180.8 601.7,180.8 601.7,182.5 618.2,182.5 619.6,182.5 619.6,185.0 659.0,185.0" fill="none" stroke="#1a9bb5" stroke-width="1.25" stroke-linejoin="miter"/>
<line x1="532.30" y1="201.70" x2="545.90" y2="201.70" stroke="#1a9bb5" stroke-width="1.5" />
<line x1="539.10" y1="200.20" x2="539.10" y2="203.20" stroke="#1a9bb5" stroke-width="0.8" />
<line x1="532.30" y1="215.00" x2="547.00" y2="215.00" stroke="#fb8a1e" stroke-width="1.5" />
<line x1="539.60" y1="213.60" x2="539.60" y2="215.00" stroke="#fb8a1e" stroke-width="0.8" />
<text x="549.00" y="204.80" font-size="9.8" text-anchor="start"  transform="rotate(0.04 549.00 204.80)">PLK-4 low&#160;&#160;(n=188)</text>
<text x="550.00" y="218.00" font-size="9.8" text-anchor="start"  transform="rotate(0.04 550.00 218.00)">PLK-4 high (n=153)</text>
<text x="532.60" y="231.20" font-size="9.8" text-anchor="start"  transform="rotate(0.04 532.60 231.20)">Log rank P &lt;0.001</text>
</svg>
</body></html>
